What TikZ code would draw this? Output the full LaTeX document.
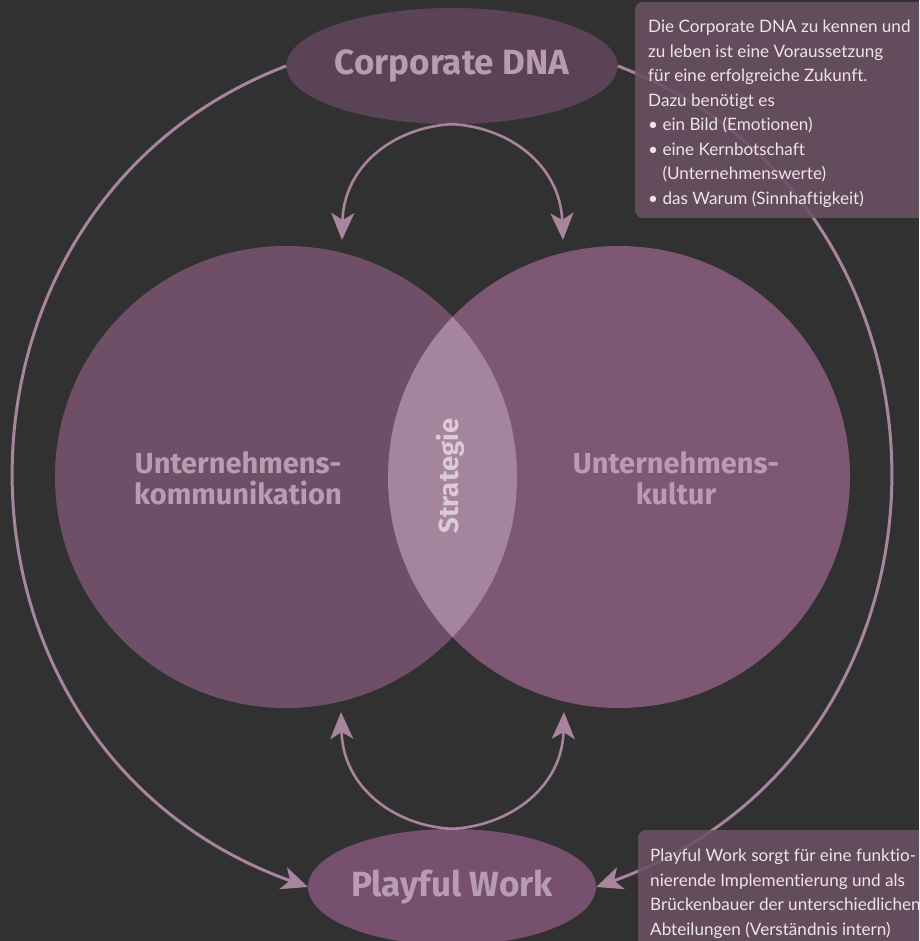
\documentclass[tikz,border=0pt]{standalone}
\usepackage{fontspec}
\setmainfont{Lato}[Ligatures=NoCommon]
\newfontfamily\lblfont{Fira Sans}
\usetikzlibrary{shapes.geometric,arrows.meta}
\definecolor{bg}{HTML}{313131}
\definecolor{leftc}{HTML}{6F4E68}
\definecolor{rightc}{HTML}{7D5774}
\definecolor{lensc}{HTML}{A5849E}
\definecolor{dnac}{HTML}{5A4257}
\definecolor{playc}{HTML}{77506F}
\definecolor{linec}{HTML}{A8849F}
\definecolor{lblc}{HTML}{B99CB1}
\definecolor{stratc}{HTML}{DCCBD7}
\definecolor{boxc}{HTML}{6B5062}
\definecolor{boxtxt}{HTML}{EDE5EB}
\begin{document}
\begin{tikzpicture}[x=1pt,y=-1pt,
  outerconn/.style={draw=linec,line width=3pt,-{Stealth[length=26pt,width=23pt,inset=7pt]}},
  innerconn/.style={draw=linec,line width=2.6pt,-{Stealth[length=27pt,width=23pt,inset=7pt]}},
  oval/.style={ellipse,minimum width=288pt,minimum height=116pt,inner sep=0pt,
    text=lblc,font=\lblfont\bfseries\fontsize{35}{40}\selectfont},
  circlbl/.style={align=center,text=lblc,inner sep=0pt,
    font=\lblfont\bfseries\fontsize{29}{31}\selectfont},
  infobox/.style={fill=boxc,fill opacity=0.88,rounded corners=8pt},
  infotext/.style={align=left,inner sep=0pt,text=boxtxt,anchor=north west,
    font=\fontsize{17.1}{24.5}\selectfont}
]
\useasboundingbox (0,0) rectangle (919,941);
\clip (0,0) rectangle (919,941);
\fill[bg] (0,0) rectangle (919,941);
% circles
\fill[leftc] (286,477) circle[radius=231];
\fill[rightc] (619,477) circle[radius=231];
\begin{scope}
  \clip (286,477) circle[radius=231];
  \fill[lensc] (619,477) circle[radius=231];
\end{scope}
\node[circlbl] (komm) at (238,478) {Unternehmens-\\kommunikation};
\node[circlbl] (kult) at (676,478) {Unternehmens-\\kultur};
\node[text=stratc,inner sep=0pt,rotate=90,font=\lblfont\bfseries\fontsize{27.5}{30}\selectfont] (strat) at (450,476) {Strategie};
% ovals
\node[oval,fill=dnac] (dna) at (452,66) {Corporate DNA};
\node[oval,fill=playc] (play) at (452,887) {Playful Work};
% connectors
\coordinate (tl) at (342,240);
\coordinate (tr) at (563,240);
\coordinate (bl) at (341,712);
\coordinate (br) at (564,712);
\draw[innerconn] (dna.south) .. controls (395,127) and (344,165) .. (tl);
\draw[innerconn] (dna.south) .. controls (509,127) and (560,165) .. (tr);
\draw[innerconn] (play.north) .. controls (395,826) and (343,788) .. (bl);
\draw[innerconn] (play.north) .. controls (509,826) and (562,788) .. (br);
\draw[outerconn] (dna.west) .. controls (-80,206) and (-80,748) .. (play.west);
\draw[outerconn] (dna.east) .. controls (984,206) and (984,748) .. (play.east);
% info boxes
\path[infobox] (635,2) rectangle (945,218);
\path[infobox] (638,830) rectangle (945,960);
\node[infotext] (info1) at (648,20) {Die Corporate DNA zu kennen und\\
zu leben ist eine Voraussetzung\\
für eine erfolgreiche Zukunft.\\
Dazu benötigt es\\
\textbullet\ ein Bild (Emotionen)\\
\textbullet\ eine Kernbotschaft\\
\phantom{\textbullet\ }(Unternehmenswerte)\\
\textbullet\ das Warum (Sinnhaftigkeit)};
\node[infotext] (info2) at (650,849) {Playful Work sorgt für eine funktio-\\
nierende Implementierung und als\\
Brückenbauer der unterschiedlichen\\
Abteilungen (Verständnis intern)};
\end{tikzpicture}
\end{document}
